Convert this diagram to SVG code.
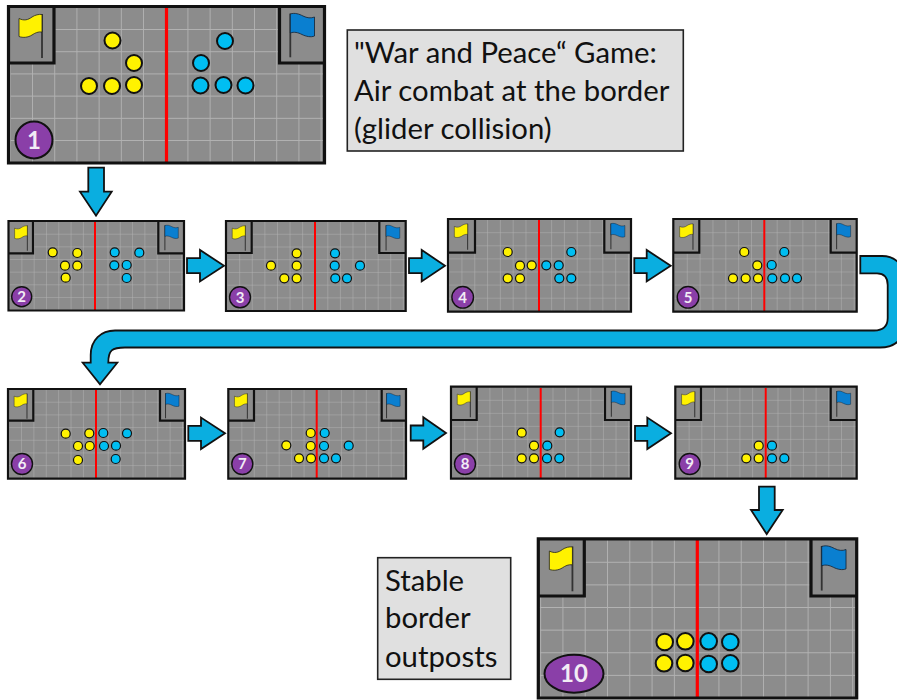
<svg xmlns="http://www.w3.org/2000/svg" xmlns:xlink="http://www.w3.org/1999/xlink" width="897" height="700" viewBox="0 0 897 700">
<style>
.f{fill:none;stroke:#111;stroke-width:2.2}
.F{fill:none;stroke:#111;stroke-width:3.2}
.r{stroke:#f00;stroke-width:2}
.R{stroke:#f00;stroke-width:3.2}
.y{fill:#fff200;stroke:#111;stroke-width:1.2}
.b{fill:#00bef2;stroke:#111;stroke-width:1.2}
.Y{fill:#fff200;stroke:#111;stroke-width:2}
.B{fill:#00bef2;stroke:#111;stroke-width:2}
.p{fill:#8a3fa8;stroke:#111;stroke-width:1.4}
.P{fill:#8a3fa8;stroke:#111;stroke-width:2}
.n{font-family:Lato,"Open Sans",sans-serif;font-weight:700;font-size:15px;fill:#f2ecf5;text-anchor:middle}
.N{font-family:Lato,"Open Sans",sans-serif;font-weight:700;font-size:24px;fill:#f2ecf5;text-anchor:middle}
.a{fill:#0aaee0;stroke:#111;stroke-width:1.8;stroke-linejoin:miter}
.t{fill:#e0e0e0;stroke:#222;stroke-width:1.6}
.l{font-family:Lato,"Open Sans",sans-serif;font-size:29.3px;fill:#111}
</style>
<defs>
<pattern id="grid" patternUnits="userSpaceOnUse" x="2.8" y="1.8" width="22.2" height="22.2">
<path d="M22.2,0V22.2M0,22.2H22.2" fill="none" stroke="#b2b2b2" stroke-width="1.8"/>
</pattern>
<g id="art">
<rect width="317" height="157" fill="#8c8c8c"/>
<rect width="317" height="157" fill="url(#grid)"/>
<rect x="0" y="0" width="46" height="57" fill="#8c8c8c"/>
<rect x="271.5" y="0" width="45.5" height="57" fill="#8c8c8c"/>
<path d="M34,8V52" fill="none" stroke="#333" stroke-width="1.8"/>
<path d="M11,12.5C16,15 20,14 24,11C27,9 31,8 34,8.5V26C30,25.5 27,27 24,29C20,31.5 15,32 11,30.5Z" fill="#fff200" stroke="#222" stroke-width=".8"/>
<path d="M282.3,7.5V51.3" fill="none" stroke="#333" stroke-width="1.8"/>
<path d="M282.3,8C287,6.5 291,8 295,10C299,12 303,12.5 306.5,11V30C303,31.5 298,30.5 294,28.5C290,26.5 286,25.5 282.3,27Z" fill="#0a7fd0" stroke="#123" stroke-width=".8"/>
</g>
</defs>
<rect width="897" height="700" fill="#fff"/>

<g id="connectors">
<path class="a" d="M88.3,167.7H104V191.7H111.7L96,215.7L80,191.7H88.3Z"/>
<path class="a" d="M187,258.2H200V250L224,265.7L200,281.4V273.2H187Z"/>
<path class="a" d="M409,258.2H421.7V250L445,265.7L421.7,281.4V273.2H409Z"/>
<path class="a" d="M634.3,258.2H646.7V250L670.7,265.7L646.7,281.4V273.2H634.3Z"/>
<path class="a" d="M860.3,256H882C896,256 905,266 905,280V323C905,338 896,347.5 880,347.5H125C112,347.5 108.3,350 108.3,362.7H117.3L100,384.3L82.7,362.7H90.7V355C90.7,340 101,330.5 115,330.5H874C883,330.5 887.7,326 887.7,318V285C887.7,277 884,273.3 877,273.3H860.3Z"/>
<path class="a" d="M188.3,425.8H201V417.6L225,433.3L201,449V440.8H188.3Z"/>
<path class="a" d="M410.7,425.5H423.3V417.3L446,433L423.3,448.7V440.5H410.7Z"/>
<path class="a" d="M635,425.8H647.3V417.6L671,433.3L647.3,449V440.8H635Z"/>
<path class="a" d="M759,486.7H774.7V510H782.7L766.7,534L751,510H759Z"/>
</g>

<g id="board1">
<use href="#art" transform="translate(8,6)"/>
<line class="R" x1="166.5" y1="7" x2="166.5" y2="163"/>
<path class="F" d="M8.5,6.5H324.5V163H8.5ZM8.5,63H54V6.5M324.5,63H279.5V6.5"/>
<circle class="Y" cx="112.5" cy="40.5" r="8"/><circle class="Y" cx="134" cy="63" r="8"/><circle class="Y" cx="89" cy="86" r="8"/><circle class="Y" cx="112" cy="86" r="8"/><circle class="Y" cx="134" cy="85" r="8"/>
<circle class="B" cx="225" cy="41" r="8"/><circle class="B" cx="201" cy="63" r="8"/><circle class="B" cx="200.5" cy="85.5" r="8"/><circle class="B" cx="223.5" cy="85" r="8"/><circle class="B" cx="245.5" cy="85.5" r="8"/>
<circle class="P" cx="34" cy="140" r="18.5"/><text class="N" x="34" y="148.5">1</text>
</g>

<g id="board2">
<use href="#art" transform="translate(8.5,221) scale(.554,.57)"/>
<line class="r" x1="95" y1="222" x2="95" y2="310"/>
<path class="f" d="M8.5,221H184V310.5H8.5ZM8.5,253.3H33V221M184,253.3H158.3V221"/>
<circle class="y" cx="52.7" cy="252.3" r="4.5"/><circle class="y" cx="77.3" cy="253" r="4.5"/><circle class="y" cx="65" cy="265.7" r="4.5"/><circle class="y" cx="77.3" cy="265.7" r="4.5"/><circle class="y" cx="65.7" cy="277.7" r="4.5"/>
<circle class="b" cx="114.7" cy="252.3" r="4.5"/><circle class="b" cx="139.3" cy="252.7" r="4.5"/><circle class="b" cx="114.3" cy="265.3" r="4.5"/><circle class="b" cx="126.7" cy="265" r="4.5"/><circle class="b" cx="126.7" cy="278" r="4.5"/>
<circle class="p" cx="21.7" cy="296.7" r="10"/><text class="n" x="21.7" y="302">2</text>
</g>

<g id="board3">
<use href="#art" transform="translate(226,221) scale(.567,.573)"/>
<line class="r" x1="315" y1="222" x2="315" y2="311"/>
<path class="f" d="M226,221H405.7V311H226ZM226,253H251.7V221M405.7,253H379.3V221"/>
<circle class="y" cx="296.7" cy="253.3" r="4.5"/><circle class="y" cx="271" cy="265.7" r="4.5"/><circle class="y" cx="296.7" cy="265.7" r="4.5"/><circle class="y" cx="284.3" cy="278.3" r="4.5"/><circle class="y" cx="296.7" cy="278.3" r="4.5"/>
<circle class="b" cx="335" cy="253.3" r="4.5"/><circle class="b" cx="334.7" cy="265.7" r="4.5"/><circle class="b" cx="360" cy="265.7" r="4.5"/><circle class="b" cx="335.3" cy="278.3" r="4.5"/><circle class="b" cx="347" cy="278.3" r="4.5"/>
<circle class="p" cx="240" cy="297.3" r="10.5"/><text class="n" x="240" y="302.6">3</text>
</g>

<g id="board4">
<use href="#art" transform="translate(448,219) scale(.577,.59)"/>
<line class="r" x1="539" y1="220" x2="539" y2="311"/>
<path class="f" d="M448,219H631V311.7H448ZM448,252.7H475V219M631,252.7H604.3V219"/>
<circle class="y" cx="507.7" cy="252" r="4.5"/><circle class="y" cx="520" cy="265.7" r="4.5"/><circle class="y" cx="531.7" cy="265.3" r="4.5"/><circle class="y" cx="507.7" cy="278.3" r="4.5"/><circle class="y" cx="520" cy="278.3" r="4.5"/>
<circle class="b" cx="571.3" cy="252" r="4.5"/><circle class="b" cx="546.3" cy="265.3" r="4.5"/><circle class="b" cx="558.7" cy="265.3" r="4.5"/><circle class="b" cx="559.3" cy="278.3" r="4.5"/><circle class="b" cx="571.3" cy="278.3" r="4.5"/>
<circle class="p" cx="462.7" cy="297.3" r="10.8"/><text class="n" x="462.7" y="302.6">4</text>
</g>

<g id="board5">
<use href="#art" transform="translate(673.3,219) scale(.5785,.59)"/>
<line class="r" x1="764.3" y1="220" x2="764.3" y2="311"/>
<path class="f" d="M673.3,219H856.7V311.7H673.3ZM673.3,252.7H699.3V219M856.7,252.7H830.7V219"/>
<circle class="y" cx="744.3" cy="252" r="4.5"/><circle class="y" cx="757.3" cy="265.3" r="4.5"/><circle class="y" cx="733" cy="278.3" r="4.5"/><circle class="y" cx="745.7" cy="278.3" r="4.5"/><circle class="y" cx="758" cy="278.3" r="4.5"/>
<circle class="b" cx="784.3" cy="252" r="4.5"/><circle class="b" cx="771.7" cy="265" r="4.5"/><circle class="b" cx="772.3" cy="278.3" r="4.5"/><circle class="b" cx="785" cy="278.3" r="4.5"/><circle class="b" cx="797" cy="278.3" r="4.5"/>
<circle class="p" cx="688" cy="297.3" r="10.8"/><text class="n" x="688" y="302.6">5</text>
</g>

<g id="board6">
<use href="#art" transform="translate(8,389) scale(.558,.571)"/>
<line class="r" x1="96" y1="390" x2="96" y2="478"/>
<path class="f" d="M8,389H185V478.7H8ZM8,420.7H33.3V389M185,420.7H160V389"/>
<circle class="y" cx="65.7" cy="433.7" r="4.5"/><circle class="y" cx="89.3" cy="433.3" r="4.5"/><circle class="y" cx="78" cy="446" r="4.5"/><circle class="y" cx="89.7" cy="446" r="4.5"/><circle class="y" cx="78" cy="460" r="4.5"/>
<circle class="b" cx="103.3" cy="433" r="4.5"/><circle class="b" cx="127" cy="433.3" r="4.5"/><circle class="b" cx="104" cy="446" r="4.5"/><circle class="b" cx="116" cy="445.7" r="4.5"/><circle class="b" cx="115.7" cy="459" r="4.5"/>
<circle class="p" cx="22" cy="464" r="10.5"/><text class="n" x="22" y="469.3">6</text>
</g>

<g id="board7">
<use href="#art" transform="translate(228.3,389) scale(.5606,.571)"/>
<line class="r" x1="316.7" y1="390" x2="316.7" y2="478"/>
<path class="f" d="M228.3,389H406V478.7H228.3ZM228.3,420.7H254V389M406,420.7H381.7V389"/>
<circle class="y" cx="286.3" cy="445.3" r="4.5"/><circle class="y" cx="310.7" cy="433" r="4.5"/><circle class="y" cx="310.7" cy="446" r="4.5"/><circle class="y" cx="299" cy="458.3" r="4.5"/><circle class="y" cx="311" cy="458.3" r="4.5"/>
<circle class="b" cx="324.7" cy="433" r="4.5"/><circle class="b" cx="324" cy="446" r="4.5"/><circle class="b" cx="348.7" cy="445.7" r="4.5"/><circle class="b" cx="324" cy="458.3" r="4.5"/><circle class="b" cx="336" cy="458.3" r="4.5"/>
<circle class="p" cx="242.3" cy="464" r="10.5"/><text class="n" x="242.3" y="469.3">7</text>
</g>

<g id="board8">
<use href="#art" transform="translate(451,386.7) scale(.568,.586)"/>
<line class="r" x1="540.7" y1="388" x2="540.7" y2="478"/>
<path class="f" d="M451,386.7H631V478.7H451ZM451,420H476.7V386.7M631,420H605V386.7"/>
<circle class="y" cx="521.7" cy="432.7" r="4.5"/><circle class="y" cx="534" cy="445.7" r="4.5"/><circle class="y" cx="521.7" cy="458.3" r="4.5"/><circle class="y" cx="534" cy="458.3" r="4.5"/>
<circle class="b" cx="559.7" cy="432.3" r="4.5"/><circle class="b" cx="547.3" cy="445.7" r="4.5"/><circle class="b" cx="547" cy="458.3" r="4.5"/><circle class="b" cx="559.3" cy="458.3" r="4.5"/>
<circle class="p" cx="465" cy="464" r="10.5"/><text class="n" x="465" y="469.3">8</text>
</g>

<g id="board9">
<use href="#art" transform="translate(675.3,386.7) scale(.572,.586)"/>
<line class="r" x1="765.7" y1="388" x2="765.7" y2="478"/>
<path class="f" d="M675.3,386.7H856.7V478.7H675.3ZM675.3,420H701V386.7M856.7,420H830.7V386.7"/>
<circle class="y" cx="758.7" cy="445.7" r="4.5"/><circle class="y" cx="746.3" cy="458.3" r="4.5"/><circle class="y" cx="758.7" cy="458.3" r="4.5"/>
<circle class="b" cx="772" cy="445.7" r="4.5"/><circle class="b" cx="772" cy="458.3" r="4.5"/><circle class="b" cx="784.3" cy="458.3" r="4.5"/>
<circle class="p" cx="689.7" cy="464" r="10.5"/><text class="n" x="689.7" y="469.3">9</text>
</g>

<g id="board10">
<use href="#art" transform="translate(538.3,538.3) scale(1.004,1.019)"/>
<line class="R" x1="697.3" y1="539" x2="697.3" y2="698"/>
<path class="F" d="M538.3,538.8H856.7V698H538.3ZM538.3,596H584.3V538.8M856.7,596H811V538.8"/>
<circle class="Y" cx="664.7" cy="642" r="8.3"/><circle class="Y" cx="685.3" cy="641.3" r="8.3"/><circle class="Y" cx="664" cy="663.3" r="8.3"/><circle class="Y" cx="685.3" cy="663" r="8.3"/>
<circle class="B" cx="708.7" cy="641.3" r="8.3"/><circle class="B" cx="730.3" cy="642" r="8.3"/><circle class="B" cx="708.7" cy="664" r="8.3"/><circle class="B" cx="730.3" cy="663.3" r="8.3"/>
<ellipse class="P" cx="574" cy="673.7" rx="29.5" ry="19"/><text class="N" x="574" y="682">10</text>
</g>

<g id="title">
<rect class="t" x="347.3" y="30" width="336" height="121"/>
<text class="l" x="354" y="62.7">"War and Peace“ Game:</text>
<text class="l" x="354" y="101">Air combat at the border</text>
<text class="l" x="354" y="139">(glider collision)</text>
</g>
<g id="caption">
<rect class="t" x="377.7" y="557.7" width="133" height="121.6"/>
<text class="l" x="385" y="590.7">Stable</text>
<text class="l" x="385" y="628.3">border</text>
<text class="l" x="385" y="666.7">outposts</text>
</g>
</svg>
